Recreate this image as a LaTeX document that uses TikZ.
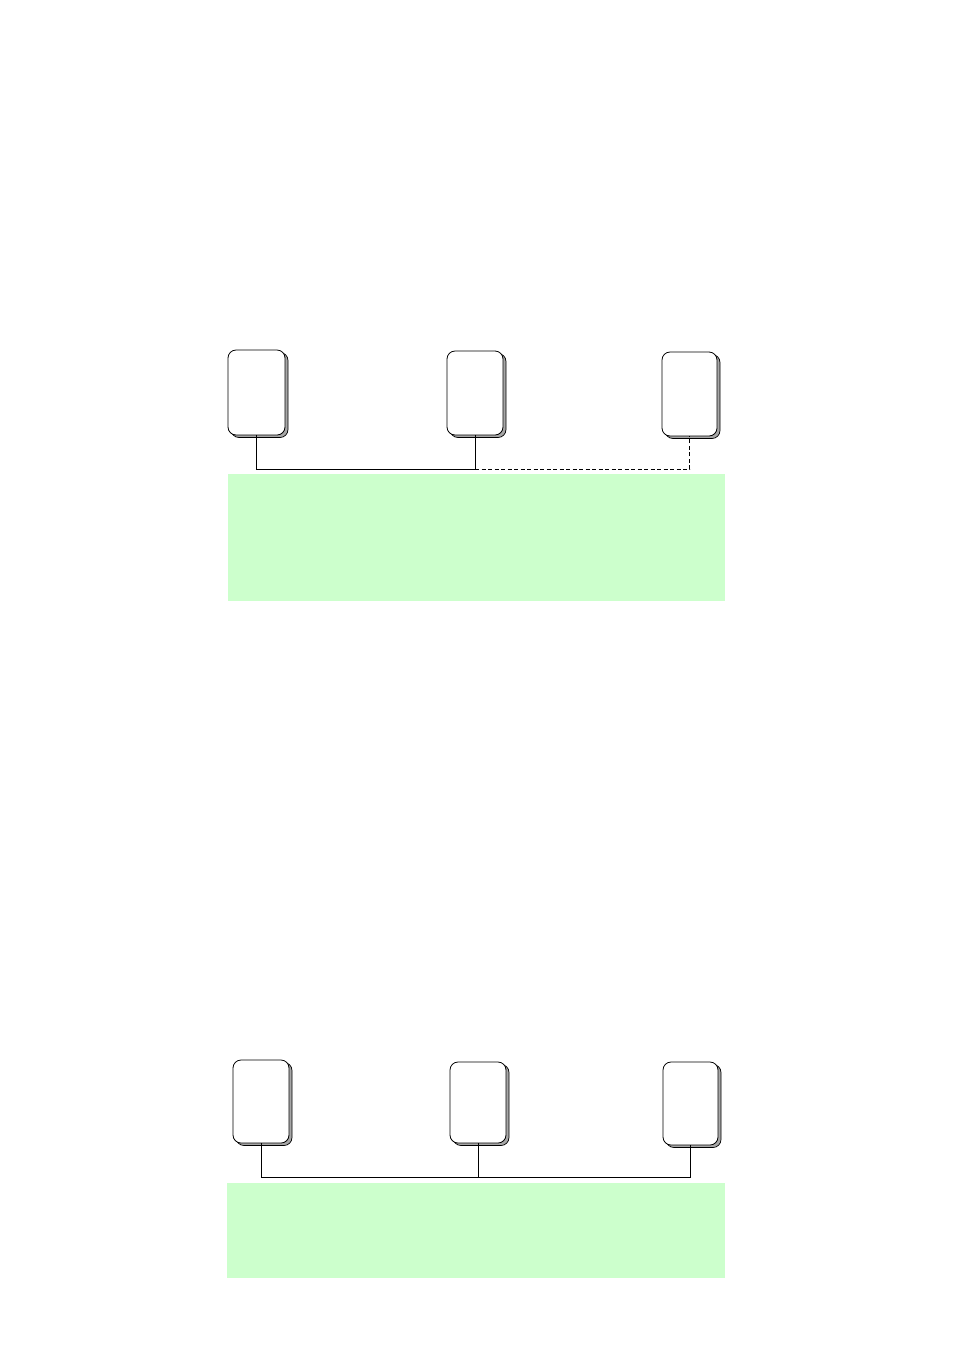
\documentclass[tikz,border=0pt]{standalone}
\usepackage{tikz}
\usetikzlibrary{calc,positioning,shadows}
\definecolor{lanfill}{HTML}{CCFFCC}
\definecolor{shadowgray}{HTML}{A6A6A6}

\begin{document}
\begin{tikzpicture}[x=1pt,y=-1pt,
  host/.style={draw,fill=white,rounded corners=8pt,line width=0.8pt,inner sep=0pt,
    drop shadow={shadow xshift=3pt,shadow yshift=-2.5pt,fill=shadowgray,draw=black,line width=0.7pt,opacity=1}},
  lan/.style={fill=lanfill,inner sep=0pt},
  wire/.style={line width=0.8pt}]
\useasboundingbox (0,0) rectangle (955,1350);
% upper network
\node[lan,minimum width=497pt,minimum height=127pt] (lanA) at (476.5,537.5) {};
\node[host,minimum width=57pt,minimum height=85pt] (a1) at (256.5,392.5) {};
\node[host,minimum width=56pt,minimum height=84pt] (a2) at (475,393) {};
\node[host,minimum width=55pt,minimum height=84pt] (a3) at (689.5,394) {};
\coordinate (busA) at (0,469);
\draw[wire] (a1.south) |- (a2.south |- busA) -- (a2.south);
\draw[wire,dash pattern=on 4pt off 2.5pt] (a2.south |- busA) -| (a3.south);
% lower network
\node[lan,minimum width=498pt,minimum height=95pt] (lanB) at (476,1230.5) {};
\node[host,minimum width=56pt,minimum height=83pt] (b1) at (261,1101.5) {};
\node[host,minimum width=56pt,minimum height=81pt] (b2) at (478,1102.5) {};
\node[host,minimum width=55pt,minimum height=83pt] (b3) at (690.5,1103.5) {};
\coordinate (busB) at (0,1177);
\draw[wire] (b1.south) |- (b3.south |- busB) -- (b3.south);
\draw[wire] (b2.south) -- (b2.south |- busB);
\end{tikzpicture}
\end{document}
